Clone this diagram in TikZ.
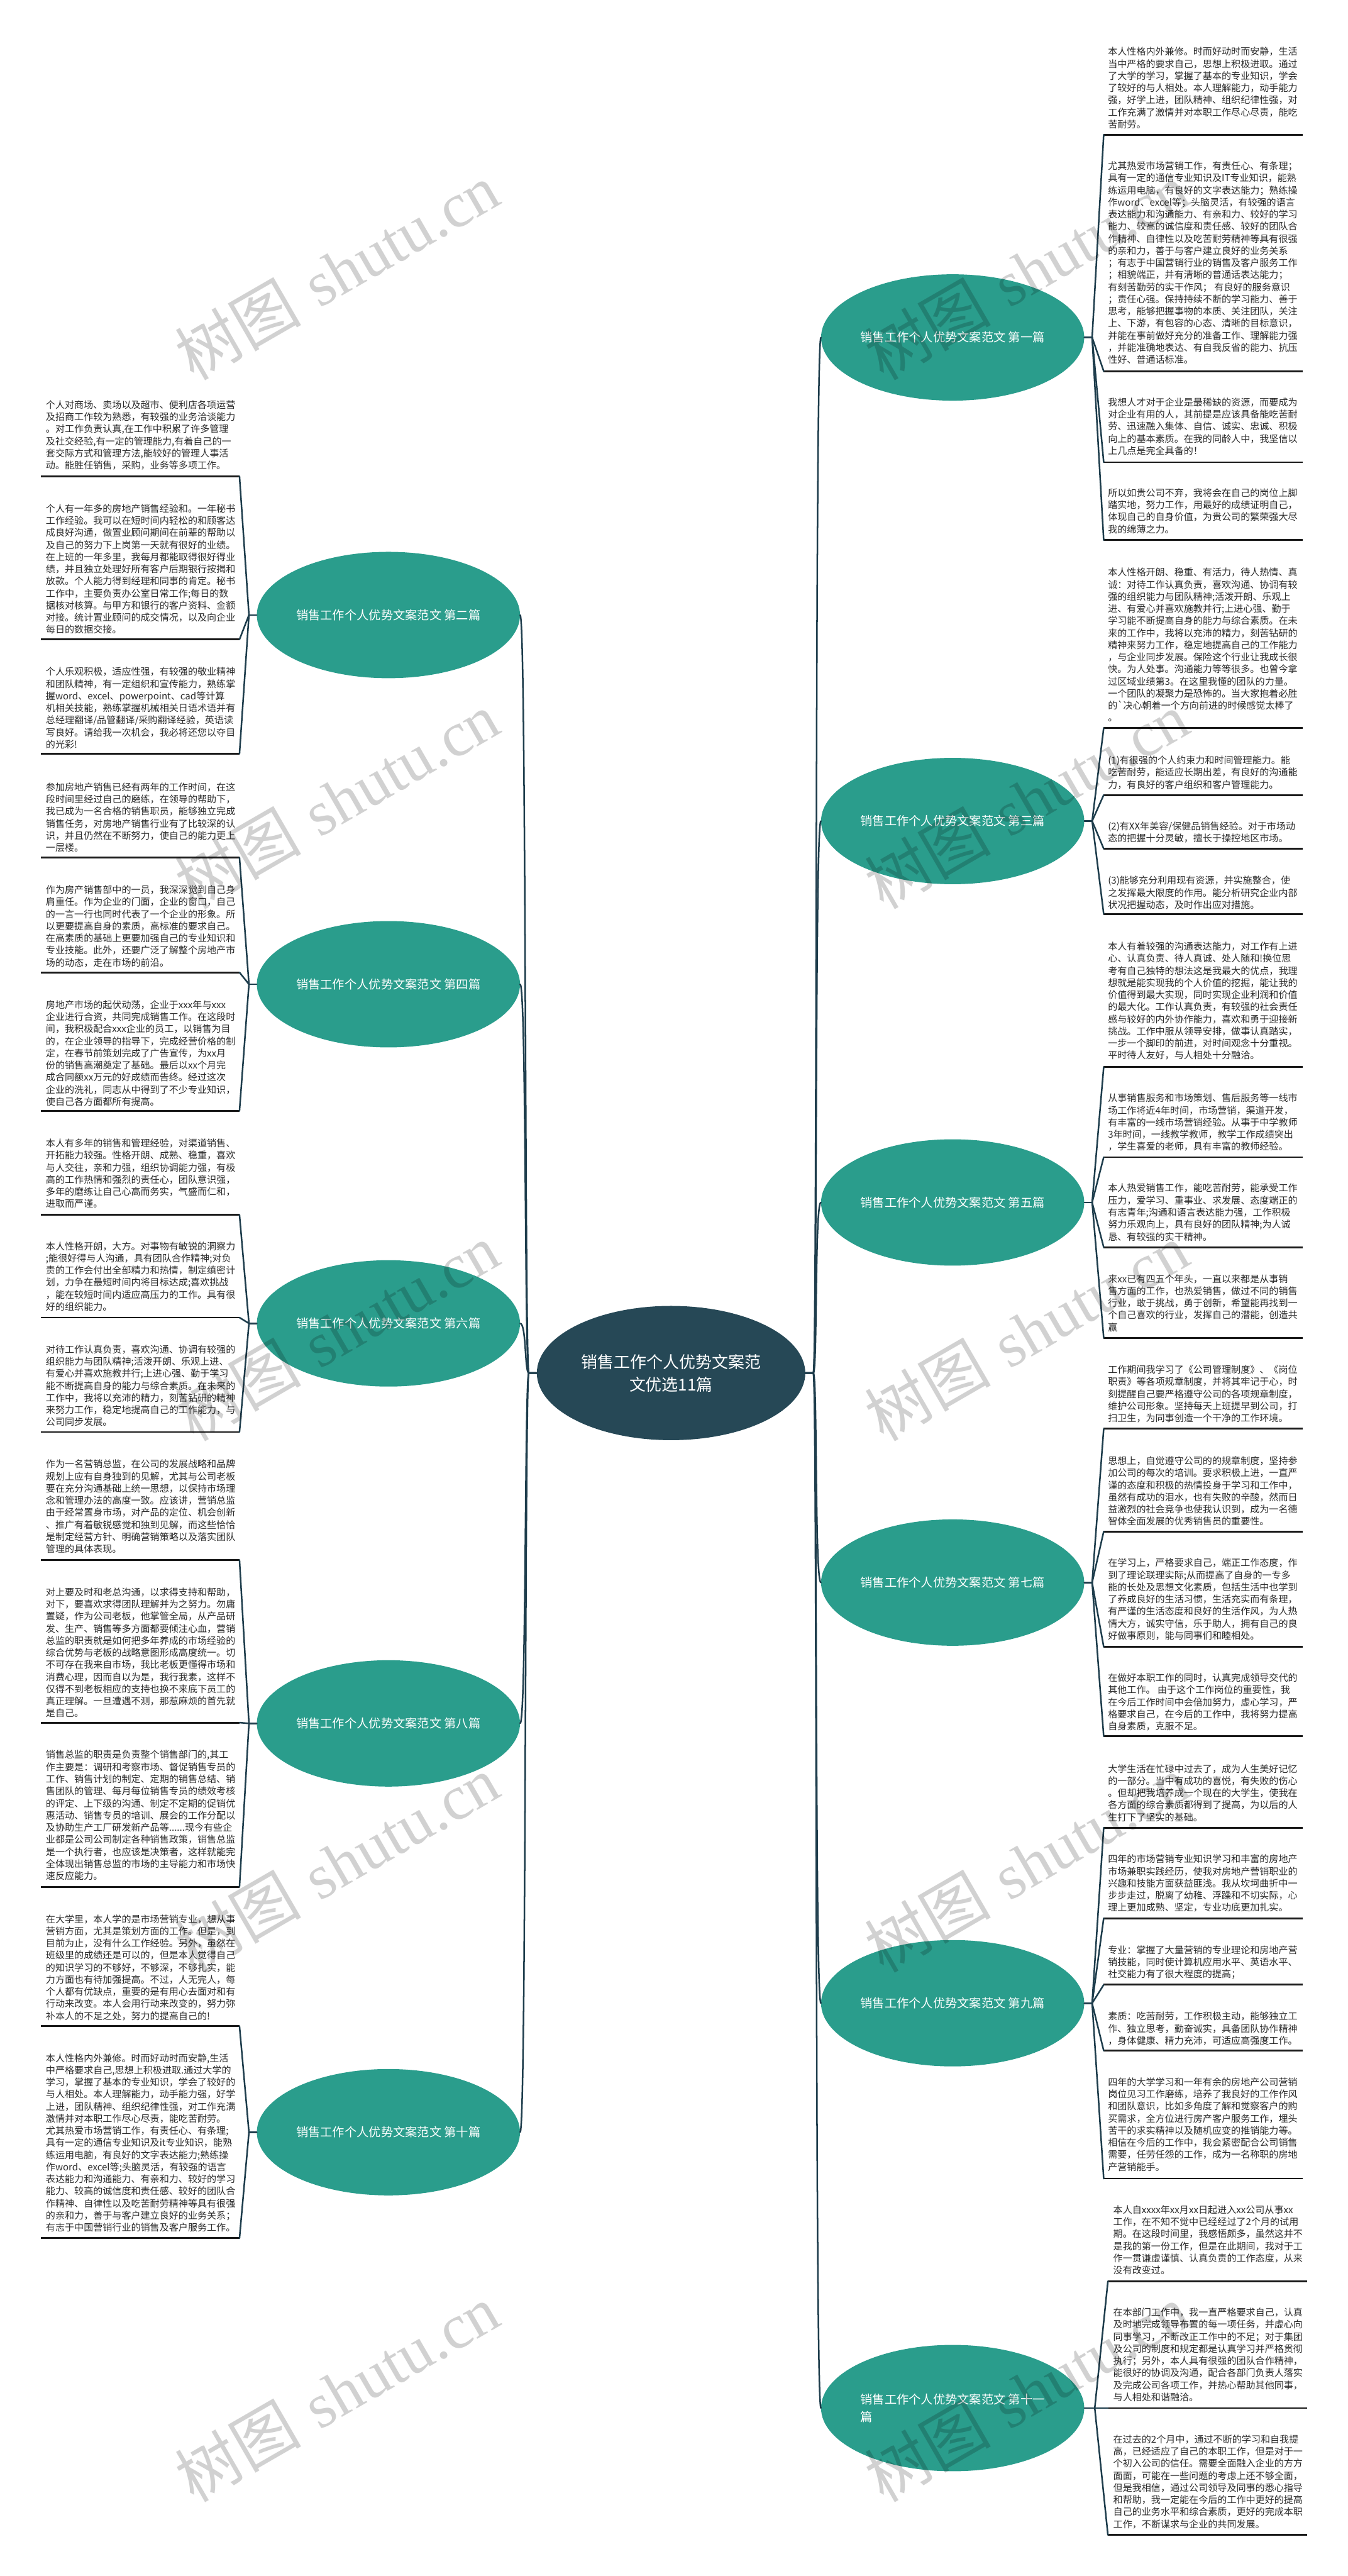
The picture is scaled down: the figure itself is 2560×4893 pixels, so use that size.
\documentclass[tikz,border=0pt]{standalone}
\usepackage{fontspec}
\usetikzlibrary{shapes.geometric}
\newfontfamily\cjk{Noto Sans CJK SC}
\newfontfamily\wmlat{Liberation Serif}
\definecolor{teal1}{HTML}{2A9D8C}
\definecolor{dark1}{HTML}{264856}
\definecolor{line1}{HTML}{1E3D4C}
\definecolor{ulc}{HTML}{1A1A1A}
\definecolor{txt}{HTML}{2B2B2B}
\tikzset{
 branch/.style={ellipse, fill=teal1, minimum width=500pt, minimum height=240pt, inner sep=0pt, text=white, font=\cjk\fontsize{23}{34}\selectfont, align=left},
 centernode/.style={ellipse, fill=dark1, minimum width=510pt, minimum height=255pt, inner sep=0pt, text=white, font=\cjk\fontsize{31}{43}\selectfont, align=center},
 leaf/.style={anchor=base west, inner sep=0pt, text=txt, font=\cjk\fontsize{18}{23}\selectfont},
 conn/.style={draw=line1, line width=3pt, line cap=round},
 uline/.style={draw=ulc, line width=3.5pt},
 wm/.style={text=black, text opacity=0.18, rotate=30, inner sep=0pt, font=\fontsize{120}{120}\selectfont},
}
\newcommand\leaf[7]{%
 \node[leaf] (#1) at (#2,{#3+7}) {\begin{tabular}[t]{@{}l@{}}#7\end{tabular}};
 \coordinate (#1-o) at (#5,#4);
 \coordinate (#1-i) at (#6,#4);
 \draw[uline] (#1-o) -- (#1-i);
}
\begin{document}
\begin{tikzpicture}[x=1pt,y=-1pt]
\fill[white] (0,0) rectangle (2560,4893);
\useasboundingbox (0,0) rectangle (2560,4893);

% ---------- centre ----------
\node[centernode] (C) at (1275,2608) {销售工作个人优势文案范\\文优选11篇};

% ---------- branches ----------
\node[branch] (B1) at (1810,641) {销售工作个人优势文案范文 第一篇};
\node[branch] (B3) at (1810,1559.5) {销售工作个人优势文案范文 第三篇};
\node[branch] (B5) at (1810,2284) {销售工作个人优势文案范文 第五篇};
\node[branch] (B7) at (1810,3006) {销售工作个人优势文案范文 第七篇};
\node[branch] (B9) at (1810,3805) {销售工作个人优势文案范文 第九篇};
\node[branch] (B11) at (1810,4574) {销售工作个人优势文案范文 第十一\\篇};
\node[branch] (B2) at (738,1168.2) {销售工作个人优势文案范文 第二篇};
\node[branch] (B4) at (738,1869.5) {销售工作个人优势文案范文 第四篇};
\node[branch] (B6) at (738,2513.7) {销售工作个人优势文案范文 第六篇};
\node[branch] (B8) at (738,3273.5) {销售工作个人优势文案范文 第八篇};
\node[branch] (B10) at (738,4050) {销售工作个人优势文案范文 第十篇};

\foreach \b in {B1,B3,B5,B7,B9,B11}
  \draw[conn] (C.east) -- ++(15,0) .. controls +(8,0) and +(-12,0) .. (\b.west);
\foreach \b in {B2,B4,B6,B8,B10}
  \draw[conn] (C.west) -- ++(-15,0) .. controls +(-8,0) and +(12,0) .. (\b.east);

% junctions
\coordinate (J1) at (2075,641);
\coordinate (J3) at (2075,1559.5);
\coordinate (J5) at (2075,2284);
\coordinate (J7) at (2075,3006);
\coordinate (J9) at (2075,3805);
\coordinate (J11) at (2080,4574);
\coordinate (J2) at (473,1168.2);
\coordinate (J4) at (473,1869.5);
\coordinate (J6) at (473,2513.7);
\coordinate (J8) at (473,3273.5);
\coordinate (J10) at (473,4050);
\foreach \b/\j in {B1/J1,B3/J3,B5/J5,B7/J7,B9/J9,B11/J11}
  \draw[conn] (\b.east) -- (\j);
\foreach \b/\j in {B2/J2,B4/J4,B6/J6,B8/J8,B10/J10}
  \draw[conn] (\b.west) -- (\j);

% ---------- left leaves ----------
\leaf{L2a}{87}{768.7}{904.6}{78}{455}{个人对商场、卖场以及超市、便利店各项运营\\及招商工作较为熟悉，有较强的业务洽谈能力\\。对工作负责认真,在工作中积累了许多管理\\及社交经验,有一定的管理能力,有着自己的一\\套交际方式和管理方法,能较好的管理人事活\\动。能胜任销售，采购，业务等多项工作。}
\leaf{L2b}{87}{965.8}{1214.6}{78}{455}{个人有一年多的房地产销售经验和。一年秘书\\工作经验。我可以在短时间内轻松的和顾客达\\成良好沟通，做置业顾问期间在前辈的帮助以\\及自己的努力下上岗第一天就有很好的业绩。\\在上班的一年多里，我每月都能取得很好得业\\绩，并且独立处理好所有客户后期银行按揭和\\放款。个人能力得到经理和同事的肯定。秘书\\工作中，主要负责办公室日常工作;每日的数\\据核对核算。与甲方和银行的客户资料、金额\\对接。统计置业顾问的成交情况，以及向企业\\每日的数据交接。}
\leaf{L2c}{87}{1275.8}{1431.8}{78}{455}{个人乐观积极，适应性强，有较强的敬业精神\\和团队精神，有一定组织和宣传能力，熟练掌\\握word、excel、powerpoint、cad等计算\\机相关技能，熟练掌握机械相关日语术语并有\\总经理翻译/品管翻译/采购翻译经验，英语读\\写良好。请给我一次机会，我必将还您以夺目\\的光彩!}
\leaf{L4a}{87}{1495}{1629}{78}{455}{参加房地产销售已经有两年的工作时间，在这\\段时间里经过自己的磨练，在领导的帮助下，\\我已成为一名合格的销售职员，能够独立完成\\销售任务，对房地产销售行业有了比较深的认\\识，并且仍然在不断努力，使自己的能力更上\\一层楼。}
\leaf{L4b}{87}{1690}{1847}{78}{455}{作为房产销售部中的一员，我深深觉到自己身\\肩重任。作为企业的门面，企业的窗口，自己\\的一言一行也同时代表了一个企业的形象。所\\以更要提高自身的素质，高标准的要求自己。\\在高素质的基础上更要加强自己的专业知识和\\专业技能。此外，还要广泛了解整个房地产市\\场的动态，走在市场的前沿。}
\leaf{L4c}{87}{1908.3}{2110}{78}{455}{房地产市场的起伏动荡，企业于xxx年与xxx\\企业进行合资，共同完成销售工作。在这段时\\间，我积极配合xxx企业的员工，以销售为目\\的，在企业领导的指导下，完成经营价格的制\\定，在春节前策划完成了广告宣传，为xx月\\份的销售高潮奠定了基础。最后以xx个月完\\成合同额xx万元的好成绩而告终。经过这次\\企业的洗礼，同志从中得到了不少专业知识，\\使自己各方面都所有提高。}
\leaf{L6a}{87}{2171.5}{2307.4}{78}{455}{本人有多年的销售和管理经验，对渠道销售、\\开拓能力较强。性格开朗、成熟、稳重，喜欢\\与人交往，亲和力强，组织协调能力强，有极\\高的工作热情和强烈的责任心，团队意识强，\\多年的磨练让自己心高而务实，气盛而仁和，\\进取而严谨。}
\leaf{L6b}{87}{2366.7}{2502.6}{78}{455}{本人性格开朗，大方。对事物有敏锐的洞察力\\;能很好得与人沟通，具有团队合作精神;对负\\责的工作会付出全部精力和热情，制定缜密计\\划，力争在最短时间内将目标达成;喜欢挑战\\，能在较短时间内适应高压力的工作。具有很\\好的组织能力。}
\leaf{L6c}{87}{2563}{2720}{78}{455}{对待工作认真负责，喜欢沟通、协调有较强的\\组织能力与团队精神;活泼开朗、乐观上进、\\有爱心并喜欢施教并行;上进心强、勤于学习\\能不断提高自身的能力与综合素质。在未来的\\工作中，我将以充沛的精力，刻苦钻研的精神\\来努力工作，稳定地提高自己的工作能力，与\\公司同步发展。}
\leaf{L8a}{87}{2781}{2963}{78}{455}{作为一名营销总监，在公司的发展战略和品牌\\规划上应有自身独到的见解，尤其与公司老板\\要在充分沟通基础上统一思想，以保持市场理\\念和管理办法的高度一致。应该讲，营销总监\\由于经常置身市场，对产品的定位、机会创新\\、推广有着敏锐感觉和独到见解，而这些恰恰\\是制定经营方针、明确营销策略以及落实团队\\管理的具体表现。}
\leaf{L8b}{87}{3024}{3272}{78}{455}{对上要及时和老总沟通，以求得支持和帮助，\\对下，要喜欢求得团队理解并为之努力。勿庸\\置疑，作为公司老板，他掌管全局，从产品研\\发、生产、销售等多方面都要倾注心血，营销\\总监的职责就是如何把多年养成的市场经验的\\综合优势与老板的战略意图形成高度统一。切\\不可存在我来自市场，我比老板更懂得市场和\\消费心理，因而自以为是，我行我素，这样不\\仅得不到老板相应的支持也换不来底下员工的\\真正理解。一旦遭遇不测，那惹麻烦的首先就\\是自己。}
\leaf{L8c}{87}{3333}{3584}{78}{455}{销售总监的职责是负责整个销售部门的,其工\\作主要是：调研和考察市场、督促销售专员的\\工作、销售计划的制定、定期的销售总结、销\\售团队的管理、每月每位销售专员的绩效考核\\的评定、上下级的沟通、制定不定期的促销优\\惠活动、销售专员的培训、展会的工作分配以\\及协助生产工厂研发新产品等......现今有些企\\业都是公司公司制定各种销售政策，销售总监\\是一个执行者，也应该是决策者，这样就能完\\全体现出销售总监的市场的主导能力和市场快\\速反应能力。}
\leaf{L10a}{87}{3645}{3848.5}{78}{455}{在大学里，本人学的是市场营销专业，想从事\\营销方面，尤其是策划方面的工作。但是，到\\目前为止，没有什么工作经验。另外，虽然在\\班级里的成绩还是可以的，但是本人觉得自己\\的知识学习的不够好，不够深，不够扎实，能\\力方面也有待加强提高。不过，人无完人，每\\个人都有优缺点，重要的是有用心去面对和有\\行动来改变。本人会用行动来改变的，努力弥\\补本人的不足之处，努力的提高自己的!}
\leaf{L10b}{87}{3908.8}{4251.4}{78}{455}{本人性格内外兼修。时而好动时而安静,生活\\中严格要求自己,思想上积极进取.通过大学的\\学习，掌握了基本的专业知识，学会了较好的\\与人相处。本人理解能力，动手能力强，好学\\上进，团队精神、组织纪律性强，对工作充满\\激情并对本职工作尽心尽责，能吃苦耐劳。\\尤其热爱市场营销工作，有责任心、有条理;\\具有一定的通信专业知识及it专业知识，能熟\\练运用电脑，有良好的文字表达能力;熟练操\\作word、excel等;头脑灵活，有较强的语言\\表达能力和沟通能力、有亲和力、较好的学习\\能力、较高的诚信度和责任感、较好的团队合\\作精神、自律性以及吃苦耐劳精神等具有很强\\的亲和力，善于与客户建立良好的业务关系；\\有志于中国营销行业的销售及客户服务工作。}

% ---------- right leaves ----------
\leaf{R1a}{2105}{98}{256}{2475}{2097}{本人性格内外兼修。时而好动时而安静，生活\\当中严格的要求自己，思想上积极进取。通过\\了大学的学习，掌握了基本的专业知识，学会\\了较好的与人相处。本人理解能力，动手能力\\强，好学上进，团队精神、组织纪律性强，对\\工作充满了激情并对本职工作尽心尽责，能吃\\苦耐劳。}
\leaf{R1b}{2105}{315}{705}{2475}{2097}{尤其热爱市场营销工作，有责任心、有条理；\\具有一定的通信专业知识及IT专业知识，能熟\\练运用电脑，有良好的文字表达能力；熟练操\\作word、excel等；头脑灵活，有较强的语言\\表达能力和沟通能力、有亲和力、较好的学习\\能力、较高的诚信度和责任感、较好的团队合\\作精神、自律性以及吃苦耐劳精神等具有很强\\的亲和力，善于与客户建立良好的业务关系\\；有志于中国营销行业的销售及客户服务工作\\；相貌端正，并有清晰的普通话表达能力；\\有刻苦勤劳的实干作风； 有良好的服务意识\\；责任心强。保持持续不断的学习能力、善于\\思考，能够把握事物的本质、关注团队，关注\\上、下游，有包容的心态、清晰的目标意识，\\并能在事前做好充分的准备工作、理解能力强\\，并能准确地表达、有自我反省的能力、抗压\\性好、普通话标准。}
\leaf{R1c}{2105}{764}{878}{2475}{2097}{我想人才对于企业是最稀缺的资源，而要成为\\对企业有用的人，其前提是应该具备能吃苦耐\\劳、迅速融入集体、自信、诚实、忠诚、积极\\向上的基本素质。在我的同龄人中，我坚信以\\上几点是完全具备的！}
\leaf{R1d}{2105}{936}{1026}{2475}{2097}{所以如贵公司不弃，我将会在自己的岗位上脚\\踏实地，努力工作，用最好的成绩证明自己，\\体现自己的自身价值，为贵公司的繁荣强大尽\\我的绵薄之力。}
\leaf{R3a}{2105}{1087}{1383}{2475}{2097}{本人性格开朗、稳重、有活力，待人热情、真\\诚：对待工作认真负责，喜欢沟通、协调有较\\强的组织能力与团队精神;活泼开朗、乐观上\\进、有爱心并喜欢施教并行;上进心强、勤于\\学习能不断提高自身的能力与综合素质。在未\\来的工作中，我将以充沛的精力，刻苦钻研的\\精神来努力工作，稳定地提高自己的工作能力\\，与企业同步发展。保险这个行业让我成长很\\快。为人处事。沟通能力等等很多。也曾今拿\\过区域业绩第3。在这里我懂的团队的力量。\\一个团队的凝聚力是恐怖的。当大家抱着必胜\\的`决心朝着一个方向前进的时候感觉太棒了\\。}
\leaf{R3b}{2105}{1444}{1510}{2475}{2097}{(1)有很强的个人约束力和时间管理能力。能\\吃苦耐劳，能适应长期出差，有良好的沟通能\\力，有良好的客户组织和客户管理能力。}
\leaf{R3c}{2105}{1569}{1612}{2475}{2097}{(2)有XX年美容/保健品销售经验。对于市场动\\态的把握十分灵敏，擅长于操控地区市场。}
\leaf{R3d}{2105}{1672.5}{1736}{2475}{2097}{(3)能够充分利用现有资源，并实施整合，使\\之发挥最大限度的作用。能分析研究企业内部\\状况把握动态，及时作出应对措施。}
\leaf{R5a}{2105}{1797.6}{2027}{2475}{2097}{本人有着较强的沟通表达能力，对工作有上进\\心、认真负责、待人真诚、处人随和!换位思\\考有自己独特的想法这是我最大的优点，我理\\想就是能实现我的个人价值的挖掘，能让我的\\价值得到最大实现，同时实现企业利润和价值\\的最大化。工作认真负责，有较强的社会责任\\感与较好的内外协作能力，喜欢和勇于迎接新\\挑战。工作中服从领导安排，做事认真踏实，\\一步一个脚印的前进，对时间观念十分重视。\\平时待人友好，与人相处十分融洽。}
\leaf{R5b}{2105}{2085.8}{2198}{2475}{2097}{从事销售服务和市场策划、售后服务等一线市\\场工作将近4年时间，市场营销，渠道开发，\\有丰富的一线市场营销经验。从事于中学教师\\3年时间，一线教学教师，教学工作成绩突出\\，学生喜爱的老师，具有丰富的教师经验。}
\leaf{R5c}{2105}{2256.7}{2369}{2475}{2097}{本人热爱销售工作，能吃苦耐劳，能承受工作\\压力，爱学习、重事业、求发展、态度端正的\\有志青年;沟通和语言表达能力强，工作积极\\努力乐观向上，具有良好的团队精神;为人诚\\恳、有较强的实干精神。}
\leaf{R5d}{2105}{2429}{2541}{2475}{2097}{来xx已有四五个年头，一直以来都是从事销\\售方面的工作，也热爱销售，做过不同的销售\\行业，敢于挑战，勇于创新，希望能再找到一\\个自己喜欢的行业，发挥自己的潜能，创造共\\赢}
\leaf{R7a}{2105}{2601.6}{2714}{2475}{2097}{工作期间我学习了《公司管理制度》、《岗位\\职责》等各项规章制度，并将其牢记于心，时\\刻提醒自己要严格遵守公司的各项规章制度，\\维护公司形象。坚持每天上班提早到公司，打\\扫卫生，为同事创造一个干净的工作环境。}
\leaf{R7b}{2105}{2774.6}{2909}{2475}{2097}{思想上，自觉遵守公司的的规章制度，坚持参\\加公司的每次的培训。要求积极上进，一直严\\谨的态度和积极的热情投身于学习和工作中，\\虽然有成功的泪水，也有失败的辛酸，然而日\\益激烈的社会竞争也使我认识到，成为一名德\\智体全面发展的优秀销售员的重要性。}
\leaf{R7c}{2105}{2968.5}{3128}{2475}{2097}{在学习上，严格要求自己，端正工作态度，作\\到了理论联理实际;从而提高了自身的一专多\\能的长处及思想文化素质，包括生活中也学到\\了养成良好的生活习惯，生活充实而有条理，\\有严谨的生活态度和良好的生活作风，为人热\\情大方，诚实守信，乐于助人，拥有自己的良\\好做事原则，能与同事们和睦相处。}
\leaf{R7d}{2105}{3186.8}{3298}{2475}{2097}{在做好本职工作的同时，认真完成领导交代的\\其他工作。 由于这个工作岗位的重要性，我\\在今后工作时间中会倍加努力，虚心学习，严\\格要求自己，在今后的工作中，我将努力提高\\自身素质，克服不足。}
\leaf{R9a}{2105}{3359.3}{3471.5}{2475}{2097}{大学生活在忙碌中过去了，成为人生美好记忆\\的一部分。当中有成功的喜悦，有失败的伤心\\。但却把我培养成一个现在的大学生，使我在\\各方面的综合素质都得到了提高，为以后的人\\生打下了坚实的基础。}
\leaf{R9b}{2105}{3531}{3643.5}{2475}{2097}{四年的市场营销专业知识学习和丰富的房地产\\市场兼职实践经历，使我对房地产营销职业的\\兴趣和技能方面获益匪浅。我从坎坷曲折中一\\步步走过，脱离了幼稚、浮躁和不切实际，心\\理上更加成熟、坚定，专业功底更加扎实。}
\leaf{R9c}{2105}{3703.7}{3770}{2475}{2097}{专业：掌握了大量营销的专业理论和房地产营\\销技能，同时使计算机应用水平、英语水平、\\社交能力有了很大程度的提高；}
\leaf{R9d}{2105}{3829.7}{3895}{2475}{2097}{素质：吃苦耐劳，工作积极主动，能够独立工\\作、独立思考，勤奋诚实，具备团队协作精神\\，身体健康、精力充沛，可适应高强度工作。}
\leaf{R9e}{2105}{3954.7}{4138}{2475}{2097}{四年的大学学习和一年有余的房地产公司营销\\岗位见习工作磨练，培养了我良好的工作作风\\和团队意识，比如多角度了解和觉察客户的购\\买需求，全方位进行房产客户服务工作，埋头\\苦干的求实精神以及随机应变的推销能力等。\\相信在今后的工作中，我会紧密配合公司销售\\需要，任劳任怨的工作，成为一名称职的房地\\产营销能手。}
\leaf{R11a}{2115}{4197}{4333}{2483}{2105}{本人自xxxx年xx月xx日起进入xx公司从事xx\\工作，在不知不觉中已经经过了2个月的试用\\期。在这段时间里，我感悟颇多，虽然这并不\\是我的第一份工作，但是在此期间，我对于工\\作一贯谦虚谨慎、认真负责的工作态度，从来\\没有改变过。}
\leaf{R11b}{2115}{4392}{4574}{2483}{2105}{在本部门工作中，我一直严格要求自己，认真\\及时地完成领导布置的每一项任务，并虚心向\\同事学习，不断改正工作中的不足；对于集团\\及公司的制度和规定都是认真学习并严格贯彻\\执行；另外，本人具有很强的团队合作精神，\\能很好的协调及沟通，配合各部门负责人落实\\及完成公司各项工作，并热心帮助其他同事，\\与人相处和谐融洽。}
\leaf{R11c}{2115}{4633}{4815}{2483}{2105}{在过去的2个月中，通过不断的学习和自我提\\高，已经适应了自己的本职工作，但是对于一\\个初入公司的信任。需要全面融入企业的方方\\面面，可能在一些问题的考虑上还不够全面，\\但是我相信，通过公司领导及同事的悉心指导\\和帮助，我一定能在今后的工作中更好的提高\\自己的业务水平和综合素质，更好的完成本职\\工作，不断谋求与企业的共同发展。}

% ---------- leaf connectors ----------
\foreach \l in {R1a,R1b,R1c,R1d} \draw[conn] (J1) -- (\l-i);
\foreach \l in {R3a,R3b,R3c,R3d} \draw[conn] (J3) -- (\l-i);
\foreach \l in {R5a,R5b,R5c,R5d} \draw[conn] (J5) -- (\l-i);
\foreach \l in {R7a,R7b,R7c,R7d} \draw[conn] (J7) -- (\l-i);
\foreach \l in {R9a,R9b,R9c,R9d,R9e} \draw[conn] (J9) -- (\l-i);
\foreach \l in {R11a,R11b,R11c} \draw[conn] (J11) -- (\l-i);
\foreach \l in {L2a,L2b,L2c} \draw[conn] (J2) -- (\l-i);
\foreach \l in {L4a,L4b,L4c} \draw[conn] (J4) -- (\l-i);
\foreach \l in {L6a,L6b,L6c} \draw[conn] (J6) -- (\l-i);
\foreach \l in {L8a,L8b,L8c} \draw[conn] (J8) -- (\l-i);
\foreach \l in {L10a,L10b} \draw[conn] (J10) -- (\l-i);

% ---------- watermarks ----------
\foreach \n/\wx/\wy in {a/640/515,b/640/1520,c/640/2530,d/640/3540,e/640/4545,f/1950/515,g/1950/1520,h/1950/2530,i/1950/3540,j/1950/4545}
  \node[wm] (wm\n) at (\wx,\wy) {{\cjk 树图} {\wmlat shutu.cn}};
\end{tikzpicture}
\end{document}
